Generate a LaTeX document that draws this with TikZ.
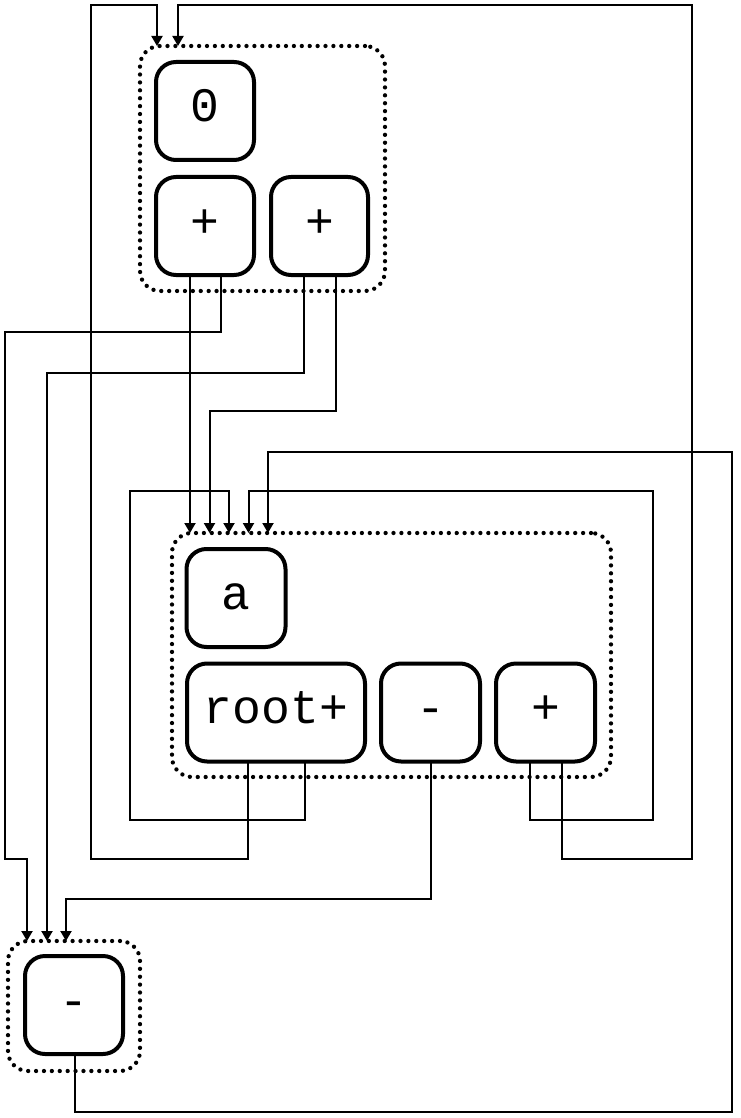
\documentclass[tikz,border=0pt]{standalone}
\usepackage{fontspec}
\setmonofont{Liberation Mono}
\usetikzlibrary{arrows.meta}
\begin{document}
\begin{tikzpicture}[x=1pt,y=-1pt,
  box/.style={draw, line width=4pt, rounded corners=20pt, inner sep=0pt, outer sep=0pt,
    minimum height=98pt, text height=30pt, text depth=8pt,
    font=\ttfamily\fontsize{48}{48}\selectfont},
  cluster/.style={draw, line width=4.3pt, dash pattern=on 0pt off 7.9pt, line cap=round,
    rounded corners=20pt, inner sep=0pt, outer sep=0pt},
  conn/.style={line width=2pt, -{Triangle[width=11pt,length=10pt]}},
]
\useasboundingbox (0,0) rectangle (740,1118);

% clusters
\node[cluster, minimum width=245pt, minimum height=245pt] (c1) at (262.5,168.5) {};
\node[cluster, minimum width=439pt, minimum height=244pt] (c2) at (391.5,655) {};
\node[cluster, minimum width=132pt, minimum height=130pt] (c3) at (74,1006) {};

% nodes
\node[box, minimum width=98pt] (n0) at (205,111) {0};
\node[box, minimum width=98pt] (p1) at (205,226) {+};
\node[box, minimum width=97pt] (p2) at (319.5,226) {+};

\node[box, minimum width=99pt] (a) at (236,598) {a};
\node[box, minimum width=178pt] (root) at (276,712.5) {root+};
\node[box, minimum width=99pt] (m) at (430.5,712.5) {-};
\node[box, minimum width=99pt] (pl) at (545.5,712.5) {+};

\node[box, minimum width=98pt] (mb) at (74,1005) {-};

% connectors
\draw[conn] ([xshift=-15pt]p1.south) -- ([xshift=18pt]c2.north west);
\draw[conn] ([xshift=16pt]p1.south) |- (5,332) |- (27,859) -- ([xshift=19pt]c3.north west);
\draw[conn] ([xshift=-15.5pt]p2.south) |- (47,373) -- ([xshift=39pt]c3.north west);
\draw[conn] ([xshift=16.5pt]p2.south) |- (209.5,411) -- ([xshift=37.5pt]c2.north west);
\draw[conn] ([xshift=-28pt]root.south) |- (91,859) |- (157,5) -- ([xshift=17pt]c1.north west);
\draw[conn] ([xshift=29pt]root.south) |- (130,820) |- (229,491) -- ([xshift=57pt]c2.north west);
\draw[conn] (m.south) |- (66,899) -- ([xshift=58pt]c3.north west);
\draw[conn] ([xshift=-15.5pt]pl.south) |- (653,820) |- (248.5,491) -- ([xshift=76.5pt]c2.north west);
\draw[conn] ([xshift=16.5pt]pl.south) |- (692,859) |- (178,5) -- ([xshift=38pt]c1.north west);
\draw[conn] ([xshift=1pt]mb.south) |- (732,1112) |- (268,452) -- ([xshift=96pt]c2.north west);
\end{tikzpicture}
\end{document}
